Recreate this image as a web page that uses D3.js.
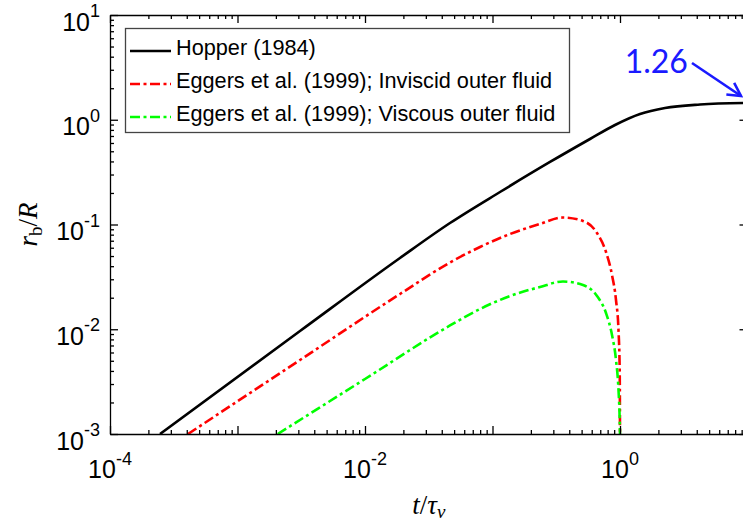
<!DOCTYPE html>
<html>
<head>
<meta charset="utf-8">
<script src="https://cdn.jsdelivr.net/npm/d3@7"></script>
<style>
  body { margin: 0; background: #fff; }
  svg { display: block; }
  .axis path, .axis line { stroke: #000; stroke-width: 1.3; }
  .ticklabel { font-family: 'Liberation Sans', Arial, sans-serif; font-size: 25px; fill: #000; }
  .legendText { font-family: 'Liberation Sans', Arial, sans-serif; font-size: 21.7px; fill: #000; }
  .axisTitle { font-family: 'Liberation Serif', 'DejaVu Serif', serif; font-size: 27px; fill: #000; }
  .anno { font-family: Lato, 'Open Sans', sans-serif; font-size: 32px; fill: #1a1aff; }
</style>
</head>
<body>
<div id="chart"></div>
<script>
/* global d3 */

// Hopper (1984)
var hopperT = [2.467e-4, 3.092e-3, 0.01881, 0.04642, 0.1145, 0.2825, 0.5816, 0.9137, 1.435, 2.254, 4.241, 9.22, 10]
var hopperR = [1e-3, 9.62e-3, 0.04789, 0.1033, 0.2043, 0.3951, 0.6549, 0.8912, 1.135, 1.295, 1.398, 1.445, 1.447]

// Eggers et al. (1999), inviscid outer fluid
var inviscidT = [4.089e-4, 3.092e-3, 0.01881, 0.04642, 0.0798, 0.1372, 0.2358, 0.3571, 0.5127, 0.6601, 0.7766, 0.8656, 0.9302, 0.9732, 0.9945, 0.9985, 0.9998]
var inviscidR = [1e-3, 5.086e-3, 0.0217, 0.04338, 0.06098, 0.08114, 0.1011, 0.1166, 0.108, 0.08295, 0.05464, 0.03295, 0.01902, 0.009836, 0.004083, 0.0017, 1e-3]

// Eggers et al. (1999), viscous outer fluid
var viscousT = [2.067e-3, 0.01, 0.04642, 0.0798, 0.1372, 0.2358, 0.3571, 0.5127, 0.6601, 0.7766, 0.8656, 0.9302, 0.9732, 0.9945, 0.9995]
var viscousR = [1e-3, 3.35e-3, 0.01086, 0.01561, 0.02077, 0.02532, 0.02856, 0.02645, 0.02077, 0.01429, 0.008813, 0.005086, 0.00263, 0.001361, 1e-3]

var seriesNames = ['Hopper (1984)', 'Eggers et al. (1999); Inviscid outer fluid', 'Eggers et al. (1999); Viscous outer fluid']
var seriesColors = ['#000000', '#ff0000', '#00ff00']
var seriesDash = [null, '10,3.5,3,3.5', '10,3.5,3,3.5']

var xDomain = [1e-4, 10]
var yDomain = [1e-3, 10]
var xLabelExps = ['-4', '-2', '0']
var yLabelExps = ['-3', '-2', '-1', '0', '1']

// annotation: text position, arrow start and arrow tip (t, r)
var annoText = '1.26'
var annoAt = [3.41, 2.79]
var arrowFrom = [3.67, 3.48]
var arrowTo = [8.9, 1.685]

var width = 743
var height = 524
var plot = { left: 110, right: 747.5, top: 15, bottom: 434 }

var x = d3.scaleLog().domain(xDomain).range([plot.left, plot.right])
var y = d3.scaleLog().domain(yDomain).range([plot.bottom, plot.top])

function isMajor (v) {
  var l = Math.log10(v)
  return Math.abs(l - Math.round(l)) < 1e-9
}

var xAll = x.ticks()
var yAll = y.ticks()
var xMajor = xAll.filter(isMajor)
var xMinor = xAll.filter(function (d) { return !isMajor(d) })
var yMajor = yAll.filter(isMajor)
var yMinor = yAll.filter(function (d) { return !isMajor(d) })

var svg = d3.select('#chart')
  .append('svg')
  .attr('width', width)
  .attr('height', height)

svg.append('defs')
  .append('clipPath')
  .attr('id', 'plotClip')
  .append('rect')
  .attr('x', plot.left)
  .attr('y', plot.top)
  .attr('width', plot.right - plot.left)
  .attr('height', plot.bottom - plot.top)

svg.select('defs')
  .append('marker')
  .attr('id', 'arrowHead')
  .attr('markerUnits', 'userSpaceOnUse')
  .attr('viewBox', '-16 -10 20 20')
  .attr('markerWidth', 20)
  .attr('markerHeight', 20)
  .attr('refX', 0)
  .attr('refY', 0)
  .attr('orient', 'auto')
  .append('path')
  .attr('d', 'M-13,-7L0,0L-13,7')
  .attr('fill', 'none')
  .attr('stroke', '#1a1aff')
  .attr('stroke-width', 2.6)

// curves
var line = d3.line()
  .x(function (d) { return x(d[0]) })
  .y(function (d) { return y(d[1]) })
  .curve(d3.curveMonotoneX)

var series = [
  d3.zip(hopperT, hopperR),
  d3.zip(inviscidT, inviscidR),
  d3.zip(viscousT, viscousR)
]

svg.append('g')
  .attr('clip-path', 'url(#plotClip)')
  .selectAll('path')
  .data(series)
  .enter().append('path')
  .attr('d', line)
  .attr('fill', 'none')
  .attr('stroke', function (d, i) { return seriesColors[i] })
  .attr('stroke-width', 2.6)
  .attr('stroke-dasharray', function (d, i) { return seriesDash[i] })

// axes: ticks point inward on all four sides
function addAxis (axisFn, scale, majors, minors, transform) {
  var g = svg.append('g').attr('class', 'axis').attr('transform', transform)
  g.call(axisFn(scale).tickValues(majors).tickSize(-8).tickSizeOuter(0).tickFormat(''))
  var gm = svg.append('g').attr('class', 'axis').attr('transform', transform)
  gm.call(axisFn(scale).tickValues(minors).tickSize(-4).tickSizeOuter(0).tickFormat(''))
  gm.select('.domain').remove()
}

addAxis(d3.axisBottom, x, xMajor, xMinor, 'translate(0,' + plot.bottom + ')')
addAxis(d3.axisTop, x, xMajor, xMinor, 'translate(0,' + plot.top + ')')
addAxis(d3.axisLeft, y, yMajor, yMinor, 'translate(' + plot.left + ',0)')
addAxis(d3.axisRight, y, yMajor, yMinor, 'translate(' + plot.right + ',0)')

// tick labels with superscript exponents
svg.selectAll('.xlab')
  .data(xLabelExps)
  .enter().append('text')
  .attr('class', 'ticklabel')
  .attr('x', function (d) { return x(Math.pow(10, +d)) })
  .attr('y', plot.bottom + 44)
  .attr('text-anchor', 'middle')
  .each(function (d) {
    var t = d3.select(this)
    t.append('tspan').text('10')
    t.append('tspan').attr('dy', -13).style('font-size', '18px').text(d)
  })

svg.selectAll('.ylab')
  .data(yLabelExps)
  .enter().append('text')
  .attr('class', 'ticklabel')
  .attr('x', plot.left - 10)
  .attr('y', function (d) { return y(Math.pow(10, +d)) + 15.5 })
  .attr('text-anchor', 'end')
  .each(function (d) {
    var t = d3.select(this)
    t.append('tspan').text('10')
    t.append('tspan').attr('dy', -13.5).style('font-size', '18px').text(d)
  })

// axis titles
var xt = svg.append('text')
  .attr('class', 'axisTitle')
  .attr('x', (plot.left + plot.right) / 2)
  .attr('y', 514)
  .attr('text-anchor', 'middle')
xt.append('tspan').style('font-style', 'italic').text('t')
xt.append('tspan').text('/')
xt.append('tspan').style('font-style', 'italic').text('τ')
xt.append('tspan').style('font-style', 'italic').style('font-size', '19px').attr('dy', 4).text('v')

var yt = svg.append('text')
  .attr('class', 'axisTitle')
  .attr('transform', 'translate(37,' + ((plot.top + plot.bottom) / 2) + ') rotate(-90)')
  .attr('text-anchor', 'middle')
yt.append('tspan').style('font-style', 'italic').text('r')
yt.append('tspan').style('font-size', '19px').attr('dy', 5).text('b')
yt.append('tspan').attr('dy', -5).text('/')
yt.append('tspan').style('font-style', 'italic').text('R')

// legend
var legend = svg.append('g').attr('class', 'legendWrapper')
legend.append('rect')
  .attr('x', 125.5)
  .attr('y', 28.5)
  .attr('width', 444)
  .attr('height', 104)
  .attr('fill', '#fff')
  .attr('stroke', '#444')
  .attr('stroke-width', 1.3)

var rows = legend.selectAll('.legendRow')
  .data(seriesNames)
  .enter().append('g')
  .attr('class', 'legendRow')
  .attr('transform', function (d, i) { return 'translate(0,' + (55 + i * 33) + ')' })

rows.append('line')
  .attr('x1', 130)
  .attr('x2', 171)
  .attr('y1', -4)
  .attr('y2', -4)
  .attr('stroke', function (d, i) { return seriesColors[i] })
  .attr('stroke-width', 2.6)
  .attr('stroke-dasharray', function (d, i) { return seriesDash[i] })

rows.append('text')
  .attr('class', 'legendText')
  .attr('x', 176)
  .attr('y', 0)
  .text(function (d) { return d })

// annotation
svg.append('text')
  .attr('class', 'anno')
  .attr('x', x(annoAt[0]))
  .attr('y', y(annoAt[1]))
  .attr('text-anchor', 'end')
  .text(annoText)

svg.append('line')
  .attr('x1', x(arrowFrom[0]))
  .attr('y1', y(arrowFrom[1]))
  .attr('x2', x(arrowTo[0]))
  .attr('y2', y(arrowTo[1]))
  .attr('stroke', '#1a1aff')
  .attr('stroke-width', 2.6)
  .attr('marker-end', 'url(#arrowHead)')
</script>
</body>
</html>
